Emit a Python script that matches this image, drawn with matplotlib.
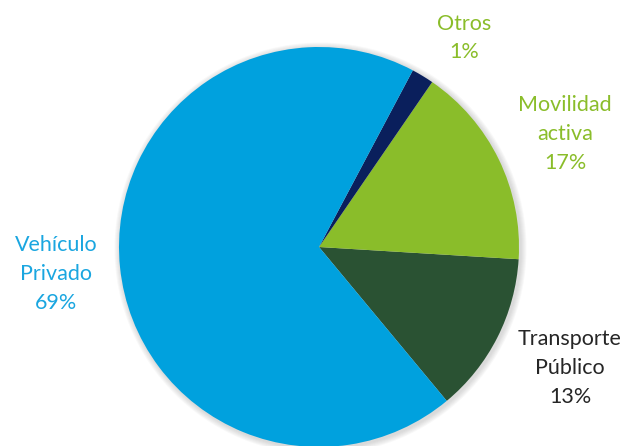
import matplotlib.pyplot as plt
from matplotlib.patches import Circle

# shares (counter-clockwise from start angle)
categories = ['Transporte\nPúblico', 'Movilidad\nactiva', 'Otros', 'Vehículo\nPrivado']
shares = [13.0, 16.4, 1.8, 68.8]
pct_labels = ['13%', '17%', '1%', '69%']
colors = ['#2a5233', '#8abd2a', '#0a1f5c', '#00a1de']
label_colors = ['#262626', '#8abd2a', '#8abd2a', '#1aa6e0']
# label centres in pixels (x, y from top)
label_pos = [(570, 368), (565, 134), (464, 38), (56, 274)]


def main():
    W, H = 627, 446
    fig = plt.figure(figsize=(W / 100, H / 100), dpi=100)
    ax = fig.add_axes([0, 0, 1, 1])

    cx, cy, r = 319, H - 247, 200

    # soft shadow
    for i in range(6):
        ax.add_patch(Circle((cx + 1.5, cy - 1.5), r + 1 + i, color='#808080',
                            alpha=0.05, lw=0, zorder=0))

    ax.pie(shares, colors=colors, startangle=-50.3, center=(cx, cy), radius=r,
           wedgeprops=dict(linewidth=0), frame=True)
    ax.set_xlim(0, W)
    ax.set_ylim(0, H)
    ax.set_aspect('equal')
    ax.axis('off')

    for name, pct, col, (x, y) in zip(categories, pct_labels, label_colors, label_pos):
        ax.text(x, H - y, name + '\n' + pct, ha='center', va='center',
                color=col, fontsize=15.5, family='Lato', linespacing=1.55)

    fig.savefig('out.png', dpi=100)


if __name__ == "__main__":
    main()
